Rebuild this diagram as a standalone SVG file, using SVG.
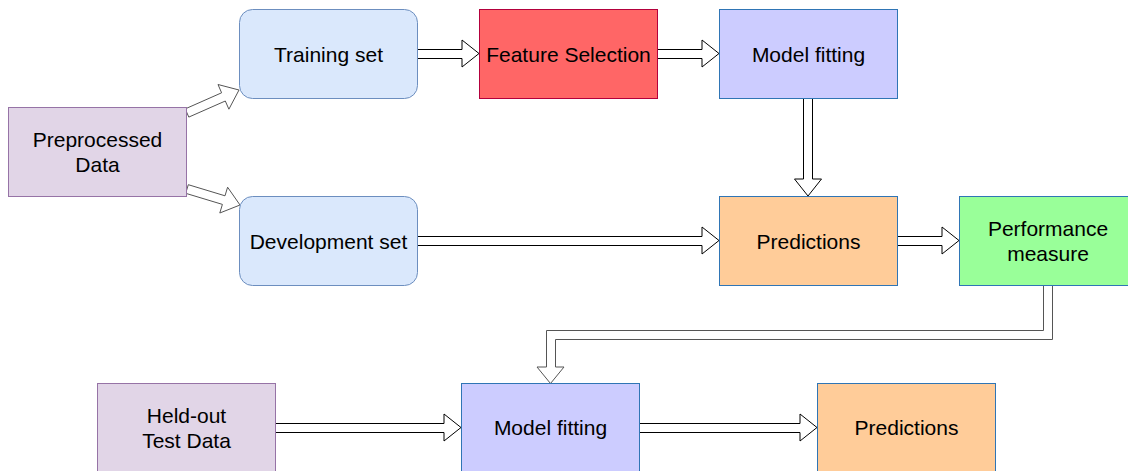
<svg xmlns="http://www.w3.org/2000/svg" width="1128" height="471" viewBox="0 0 1128 471">
<style>
  .lbl { font-family: "Liberation Sans", Arial, sans-serif; font-size: 21px; fill: #000; text-anchor: middle; }
  .arrow { fill: #fff; stroke: #000; stroke-width: 1; stroke-linejoin: miter; }
  .arrow-g { fill: #fff; stroke: #555; stroke-width: 1; }
  .purple { fill: #e1d5e7; stroke: #9673a6; }
  .blue { fill: #dae8fc; stroke: #6c8ebf; }
  .red { fill: #ff6666; stroke: #b3003c; }
  .lav { fill: #ccccff; stroke: #2f75b5; }
  .orange { fill: #ffcc99; stroke: #2f75b5; }
  .green { fill: #99ff99; stroke: #2f75b5; }
</style>
<rect width="1128" height="471" fill="#fff"/>
<g id="connectors">
  <!-- Preprocessed -> Training -->
  <polygon class="arrow-g" points="185.2,108.9 221.6,92.8 218.0,84.5 239,90 228.9,109.2 225.3,101.0 188.8,117.1"/>
  <!-- Preprocessed -> Development -->
  <polygon class="arrow-g" points="188.3,184.7 225.0,195.8 227.6,187.2 240,205 219.8,213.0 222.4,204.4 185.7,193.3"/>
  <!-- Training -> Feature Selection -->
  <polygon class="arrow" points="417,49.5 462,49.5 462,40 479,53.5 462,67 462,58.5 417,58.5"/>
  <!-- Feature Selection -> Model fitting -->
  <polygon class="arrow" points="657,49.5 702,49.5 702,40 719,53.5 702,67 702,58.5 657,58.5"/>
  <!-- Model fitting -> Predictions -->
  <polygon class="arrow" points="803.5,98 803.5,179 794.5,179 808,196 821.5,179 812.5,179 812.5,98"/>
  <!-- Development -> Predictions -->
  <polygon class="arrow" points="417,236.5 702,236.5 702,227 719,240.5 702,254 702,245.5 417,245.5"/>
  <!-- Predictions -> Performance -->
  <polygon class="arrow" points="897,236.5 942,236.5 942,227 959,240.5 942,254 942,245.5 897,245.5"/>
  <!-- Performance -> Model fitting (bottom) -->
  <polygon class="arrow-g" points="1043.5,285 1043.5,330.5 546.5,330.5 546.5,367 537,367 550.5,383.5 564,367 555.5,367 555.5,339.5 1052.5,339.5 1052.5,285"/>
  <!-- Held-out -> Model fitting -->
  <polygon class="arrow" points="275,423.5 444,423.5 444,414 461,427.5 444,441 444,432.5 275,432.5"/>
  <!-- Model fitting -> Predictions (bottom) -->
  <polygon class="arrow" points="639,423.5 800,423.5 800,414 817,427.5 800,441 800,432.5 639,432.5"/>
</g>
<g id="preprocessed">
  <rect class="purple" x="8.5" y="107.5" width="178" height="89"/>
  <text class="lbl" x="97.5" y="147">Preprocessed</text>
  <text class="lbl" x="97.5" y="172">Data</text>
</g>
<g id="training">
  <rect class="blue" x="239.5" y="9.5" width="178" height="89" rx="13" ry="13"/>
  <text class="lbl" x="328.5" y="61.5">Training set</text>
</g>
<g id="feature-selection">
  <rect class="red" x="479.5" y="9.5" width="178" height="89"/>
  <text class="lbl" x="568.5" y="61.5">Feature Selection</text>
</g>
<g id="model-fitting-1">
  <rect class="lav" x="719.5" y="9.5" width="178" height="89"/>
  <text class="lbl" x="808.5" y="61.5">Model fitting</text>
</g>
<g id="development">
  <rect class="blue" x="239.5" y="196.5" width="178" height="89" rx="13" ry="13"/>
  <text class="lbl" x="328.5" y="248.5">Development set</text>
</g>
<g id="predictions-1">
  <rect class="orange" x="719.5" y="196.5" width="178" height="89"/>
  <text class="lbl" x="808.5" y="248.5">Predictions</text>
</g>
<g id="performance">
  <rect class="green" x="959.5" y="196.5" width="178" height="89"/>
  <text class="lbl" x="1048" y="235.5">Performance</text>
  <text class="lbl" x="1048" y="260.5">measure</text>
</g>
<g id="held-out">
  <rect class="purple" x="97.5" y="383.5" width="178" height="89"/>
  <text class="lbl" x="186.5" y="423">Held-out</text>
  <text class="lbl" x="186.5" y="448">Test Data</text>
</g>
<g id="model-fitting-2">
  <rect class="lav" x="461.5" y="383.5" width="178" height="89"/>
  <text class="lbl" x="550.5" y="435">Model fitting</text>
</g>
<g id="predictions-2">
  <rect class="orange" x="817.5" y="383.5" width="178" height="89"/>
  <text class="lbl" x="906.5" y="435">Predictions</text>
</g>
</svg>
